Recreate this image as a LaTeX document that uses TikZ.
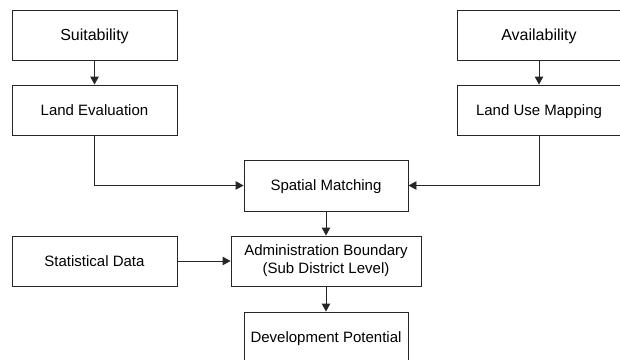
\documentclass[tikz,border=0pt]{standalone}
\usepackage{fontspec}
\setmainfont{Liberation Sans}
\usetikzlibrary{arrows.meta}
\begin{document}
\begin{tikzpicture}[x=1pt,y=-1pt,
  box/.style={draw=black!85,line width=0.9pt,rectangle,inner sep=0pt,
    minimum width=165pt,minimum height=50pt,align=center,
    font=\fontsize{15}{18}\selectfont},
  onebox/.style={box,text height=10.8pt,text depth=0pt},
  bigbox/.style={box,font=\fontsize{16}{18}\selectfont,text height=11.5pt,text depth=0pt},
  conn/.style={draw=black!85,line width=0.9pt,-{Triangle[length=8pt,width=8.5pt]}}]
\path[use as bounding box,clip] (0,0) rectangle (620,359);
\fill[white] (0,0) rectangle (620,359);
\node[bigbox] (suit) at (94.5,35) {Suitability};
\node[onebox] (landeval) at (94.5,110) {Land Evaluation};
\node[bigbox,minimum width=164pt] (avail) at (539,35) {Availability};
\node[onebox,minimum width=164pt] (landuse) at (539,110) {Land Use Mapping};
\node[onebox,minimum width=164pt,minimum height=51pt] (spatial) at (326,185.5) {Spatial Matching};
\node[box,minimum width=190pt] (admin) at (326,261) {Administration Boundary\\(Sub District Level)};
\node[onebox] (stat) at (94.5,261) {Statistical Data};
\node[onebox,minimum width=164pt] (dev) at (326,337) {Development Potential};
\draw[conn] (suit) -- (landeval);
\draw[conn] (avail) -- (landuse);
\draw[conn] (landeval.south) |- (spatial.west);
\draw[conn] (landuse.south) |- (spatial.east);
\draw[conn] (spatial) -- (admin);
\draw[conn] (stat) -- (admin);
\draw[conn] (admin) -- (dev);
\end{tikzpicture}
\end{document}
